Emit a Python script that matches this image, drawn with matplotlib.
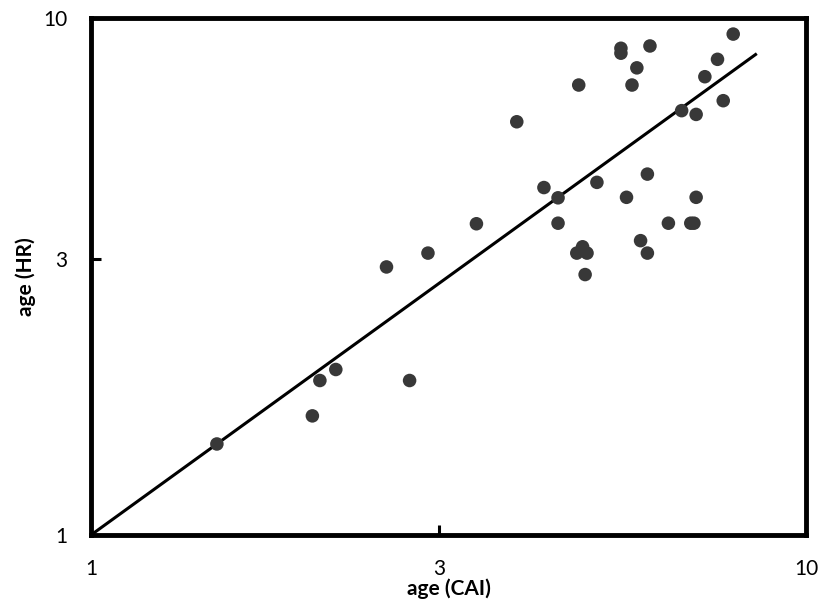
import matplotlib
matplotlib.use('Agg')
import matplotlib.pyplot as plt
from matplotlib.ticker import FixedLocator, NullLocator, FixedFormatter

# age estimates: CAI (x) vs HR (y)
age_cai = [1.50, 2.04, 2.09, 2.20, 2.59, 2.79, 2.96, 3.46, 3.94, 4.30,
           4.50, 4.50, 4.81, 4.78, 4.87, 4.94, 4.91, 5.10, 5.51, 5.51,
           5.61, 5.71, 5.80, 5.87, 6.00, 6.00, 6.05, 6.42, 6.70, 6.90,
           6.97, 7.02, 7.02, 7.22, 7.52, 7.66, 7.91]
age_hr = [1.50, 1.70, 1.99, 2.09, 3.30, 1.99, 3.51, 4.00, 6.30, 4.70,
          4.49, 4.01, 7.42, 3.51, 3.61, 3.51, 3.19, 4.81, 8.74, 8.55,
          4.50, 7.42, 8.01, 3.71, 4.99, 3.51, 8.83, 4.01, 6.62, 4.01,
          4.01, 6.51, 4.50, 7.70, 8.32, 6.92, 9.31]

# 1:1 line
fit_x = [1.0, 8.5]
fit_y = [1.0, 8.5]

# the "3" ticks sit where the original drew them (not exactly at 3)
x_ticks = [1, 3.07, 10]
y_ticks = [1, 3.42, 10]
tick_labels = ['1', '3', '10']

plt.rcParams['font.family'] = ['Lato', 'DejaVu Sans']

fig = plt.figure(figsize=(8.3, 6.01), dpi=100)
ax = fig.add_axes([0.1096, 0.1098, 0.8615, 0.8602])

ax.plot(fit_x, fit_y, color='black', lw=2.2, zorder=2)
ax.scatter(age_cai, age_hr, s=95, color='#383838', edgecolors='none', zorder=3)

ax.set_xscale('log')
ax.set_yscale('log')
ax.set_xlim(1, 10)
ax.set_ylim(1, 10)

ax.xaxis.set_major_locator(FixedLocator(x_ticks))
ax.yaxis.set_major_locator(FixedLocator(y_ticks))
for axis in (ax.xaxis, ax.yaxis):
    axis.set_major_formatter(FixedFormatter(tick_labels))
    axis.set_minor_locator(NullLocator())

ax.tick_params(direction='in', length=7, width=2.2, pad=17, labelsize=15,
               colors='black')

for sp in ax.spines.values():
    sp.set_linewidth(3.5)
    sp.set_color('black')

ax.set_xlabel('age (CAI)', fontsize=15, fontweight='bold', labelpad=0)
ax.set_ylabel('age (HR)', fontsize=15, fontweight='bold', labelpad=5)

fig.savefig('out.png', dpi=100)
